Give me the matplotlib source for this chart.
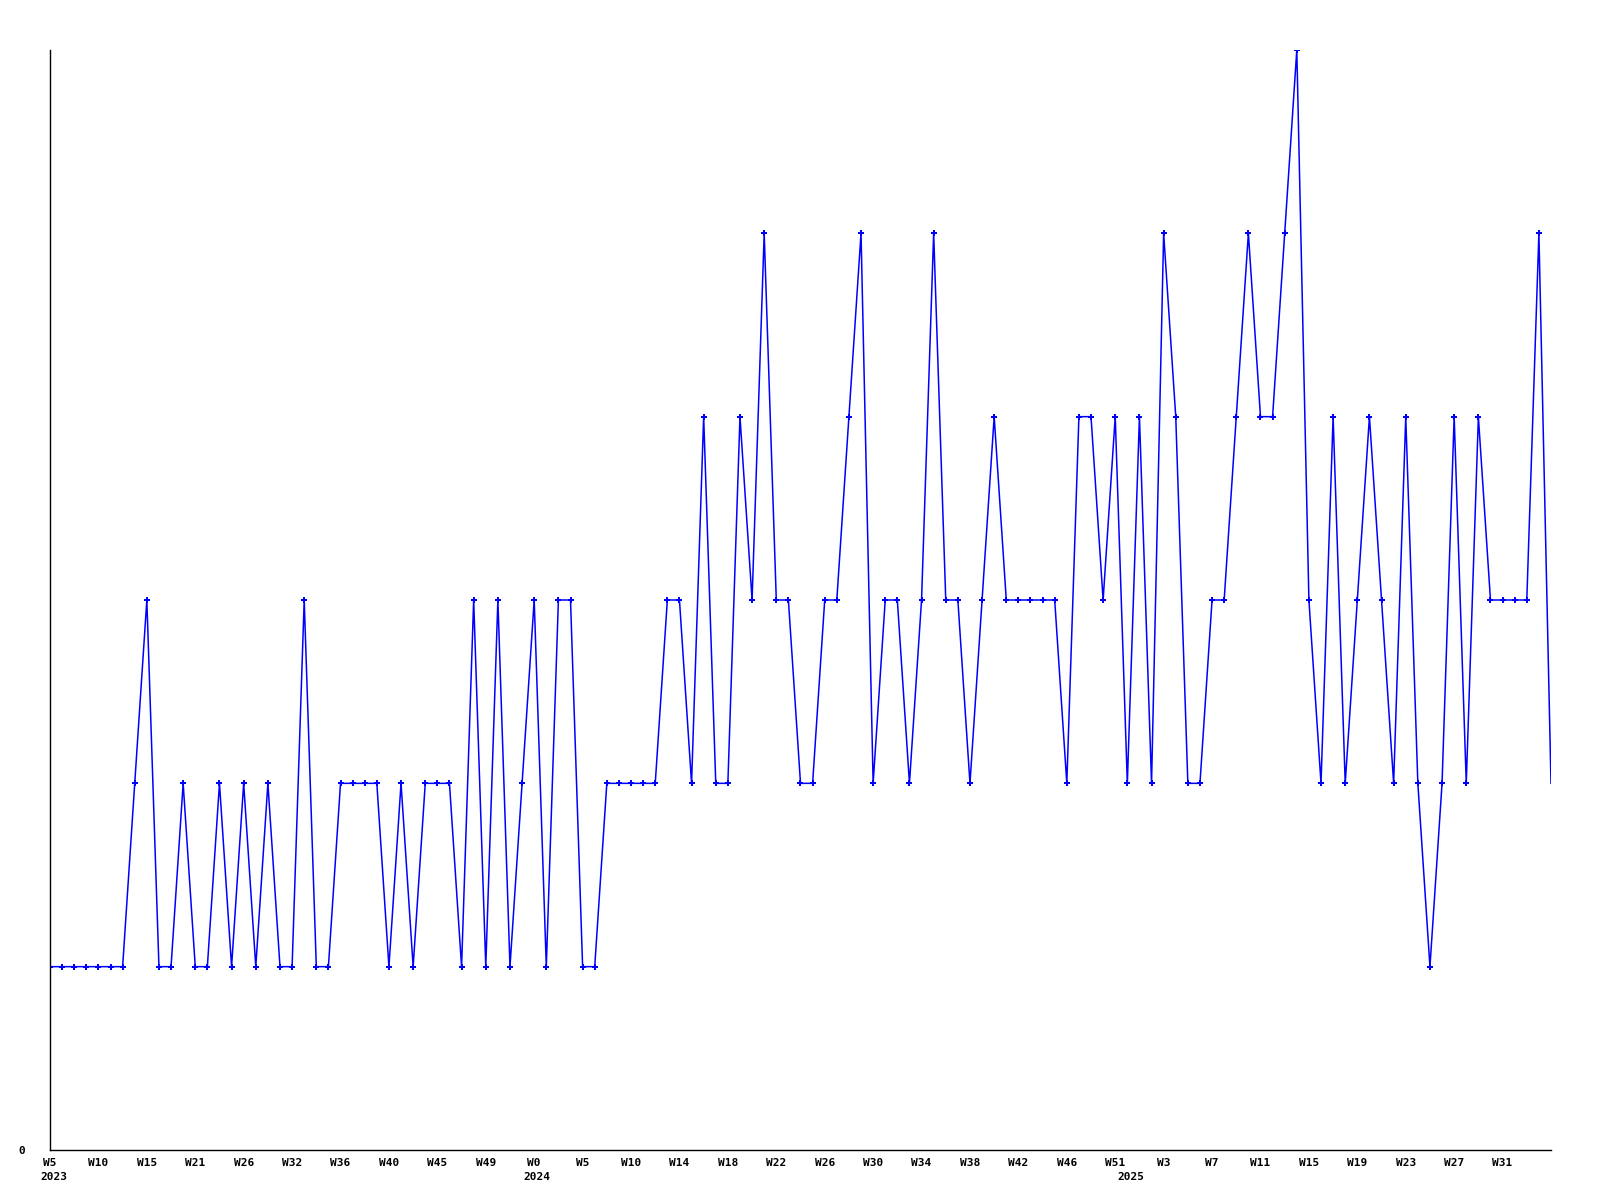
import matplotlib
matplotlib.use("Agg")
import matplotlib.pyplot as plt
import numpy as np

# Data values (one per period)
values = [
    1, 1, 1, 1, 1, 1, 1, 2, 3, 1,
    1, 2, 1, 1, 2, 1, 2, 1, 2, 1,
    1, 3, 1, 1, 2, 2, 2, 2, 1, 2,
    1, 2, 2, 2, 1, 3, 1, 3, 1, 2,
    3, 1, 3, 3, 1, 1, 2, 2, 2, 2,
    2, 3, 3, 2, 4, 2, 2, 4, 3, 5,
    3, 3, 2, 2, 3, 3, 4, 5, 2, 3,
    3, 2, 3, 5, 3, 3, 2, 3, 4, 3,
    3, 3, 3, 3, 2, 4, 4, 3, 4, 2,
    4, 2, 5, 4, 2, 2, 3, 3, 4, 5,
    4, 4, 5, 6, 3, 2, 4, 2, 3, 4,
    3, 2, 4, 2, 1, 2, 4, 2, 4, 3,
    3, 3, 3, 5, 2,
]

week_labels = ["W5", "W10", "W15", "W21", "W26", "W32", "W36", "W40", "W45", "W49",
               "W0", "W5", "W10", "W14", "W18", "W22", "W26", "W30", "W34", "W38",
               "W42", "W46", "W51", "W3", "W7", "W11", "W15", "W19", "W23", "W27",
               "W31"]
year_labels = ["2023", "2024", "2025"]

x = np.arange(len(values))

fig = plt.figure(figsize=(16, 12), dpi=100)
ax = fig.add_axes([50 / 1600, 50 / 1200, 1501 / 1600, 1100 / 1200])

ax.plot(x, values, color="#0000ff", linewidth=1.1, marker="P", markersize=4.5,
        markeredgewidth=0, markevery=list(range(len(values) - 1)))

ax.set_xlim(0, len(values) - 1)
ax.set_ylim(0, 6)

for s in ["top", "right"]:
    ax.spines[s].set_visible(False)
ax.spines["left"].set_linewidth(1.0)
ax.spines["bottom"].set_linewidth(1.0)

font = dict(family="DejaVu Sans Mono", weight="bold", size=8)

tick_pos = x[::4][:len(week_labels)]
ax.set_xticks(tick_pos)
ax.set_xticklabels(week_labels, **font)
ax.tick_params(axis="x", length=0, pad=6)

ax.set_yticks([0])
ax.set_yticklabels(["0"], **font)
ax.tick_params(axis="y", length=0, pad=18)

year_pos = [0.3, 40.2, 89.3]
for pos, lab in zip(year_pos, year_labels):
    ax.annotate(lab, xy=(pos, 0), xycoords=("data", "axes fraction"),
                xytext=(0, -16), textcoords="offset points",
                ha="center", va="top", **font)

fig.savefig("out.png", dpi=100)
